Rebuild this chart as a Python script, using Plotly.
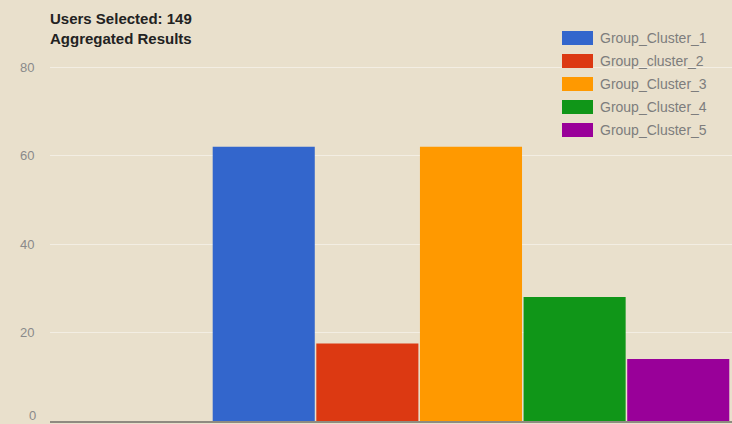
import plotly.graph_objects as go

series_names = ["Group_Cluster_1", "Group_cluster_2", "Group_Cluster_3", "Group_Cluster_4", "Group_Cluster_5"]
series_values = [62, 17.5, 62, 28, 14]
series_colors = ["#3366cc", "#dc3912", "#ff9900", "#109618", "#990099"]
y_ticks = [0, 20, 40, 60, 80]
category = [0]

BG = "#e9e0cc"

W, H = 732, 424
PL, PR, PT, PB = 50, 732, 5, 421  # plot area in page pixels


def px(x):
    return (x - PL) / (PR - PL)


def py(y):
    return 1 - (y - PT) / (PB - PT)


fig = go.Figure()
for name, val, col in zip(series_names, series_values, series_colors):
    fig.add_trace(go.Bar(x=category, y=[val], name=name, marker=dict(color=col, line=dict(width=0)),
                         showlegend=False))

# custom legend (wide colour swatches like the reference)
shapes = []
annotations = []
top_px = 31
step = 23
for i, (name, col) in enumerate(zip(series_names, series_colors)):
    y0 = top_px + i * step
    shapes.append(dict(type="rect", xref="paper", yref="paper",
                       x0=px(562), x1=px(593), y0=py(y0), y1=py(y0 + 14),
                       fillcolor=col, line=dict(width=0), layer="above"))
    annotations.append(dict(xref="paper", yref="paper", x=px(598), y=py(y0 + 7),
                            text=name, showarrow=False, xanchor="left", yanchor="middle",
                            font=dict(size=14, color="#7d7d7d")))

annotations.append(dict(xref="paper", yref="paper", x=px(48), y=py(19), text="<b>Users Selected: 149</b>",
                        showarrow=False, xanchor="left", yanchor="middle", font=dict(size=15, color="#222222")))
annotations.append(dict(xref="paper", yref="paper", x=px(48), y=py(38), text="<b>Aggregated Results</b>",
                        showarrow=False, xanchor="left", yanchor="middle", font=dict(size=15, color="#222222")))
# zero label at the bottom edge
annotations.append(dict(xref="paper", yref="paper", x=px(38), y=py(415), text=str(y_ticks[0]), showarrow=False,
                        xanchor="right", yanchor="middle", font=dict(size=13, color="#8a8a8a")))

fig.update_layout(
    width=W, height=H,
    margin=dict(l=PL, r=W - PR, t=PT, b=H - PB),
    paper_bgcolor=BG, plot_bgcolor=BG,
    barmode="group", bargap=0.2, bargroupgap=0.015,
    font=dict(family="Liberation Sans, Arial, sans-serif"),
    shapes=shapes, annotations=annotations,
    xaxis=dict(range=[-0.65, 0.403], showticklabels=False, showgrid=False, zeroline=False,
               showline=True, linecolor="#8f8a80", linewidth=2, ticks=""),
    yaxis=dict(range=[0, (PB - PT) / 4.425], tickvals=y_ticks[1:], showgrid=True,
               gridcolor="rgba(255,255,255,0.45)",
               zeroline=False, ticks="outside", ticklen=12, tickcolor=BG,
               tickfont=dict(size=13, color="#8a8a8a")),
)

fig.write_html("out.html", config={"displayModeBar": False},
               post_script="document.body.style.margin='0';document.body.style.overflow='hidden';")
